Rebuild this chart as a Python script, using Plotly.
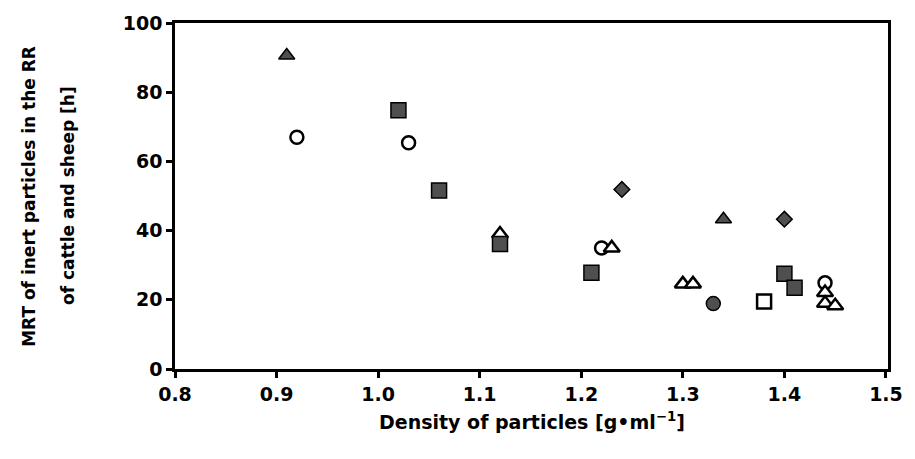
import plotly.graph_objects as go

# Data
ft_x = [0.91, 1.34]
ft_y = [90.6, 43.3]
oc_x = [0.92, 1.03, 1.22, 1.44]
oc_y = [67.0, 65.4, 35.0, 24.9]
ot_x = [1.12, 1.23, 1.30, 1.31, 1.44, 1.44, 1.45]
ot_y = [39.0, 35.0, 24.6, 24.6, 22.1, 19.0, 18.3]
fs_x = [1.02, 1.06, 1.12, 1.21, 1.40, 1.41]
fs_y = [74.8, 51.6, 36.1, 27.8, 27.5, 23.5]
fd_x = [1.24, 1.40]
fd_y = [51.9, 43.3]
fc_x = [1.33]
fc_y = [18.9]
os_x = [1.38]
os_y = [19.5]

x_ticks = [0.8, 0.9, 1.0, 1.1, 1.2, 1.3, 1.4, 1.5]
y_ticks = [0, 20, 40, 60, 80, 100]

FILL = "#4f4f4f"
fig = go.Figure()

def add(x, y, symbol, size, filled):
    fig.add_trace(go.Scatter(
        x=x, y=y, mode="markers", showlegend=False,
        marker=dict(symbol=symbol, size=size,
                    color=FILL if filled else "white",
                    line=dict(color="black", width=1.5 if filled else 2.5))))

add(ft_x, ft_y, "triangle-up", 14, True)
add(oc_x, oc_y, "circle", 13, False)
add(ot_x, ot_y, "triangle-up", 14, False)
add(fs_x, fs_y, "square", 15, True)
add(fd_x, fd_y, "diamond", 12, True)
add(fc_x, fc_y, "circle", 14, True)
add(os_x, os_y, "square", 14, False)

tickfont = dict(family="DejaVu Sans", size=19, color="black", weight="bold")
fig.update_xaxes(range=[0.8, 1.502], tickvals=x_ticks, ticktext=[f"{v:.1f}" for v in x_ticks],
                 ticks="outside", ticklen=6, tickwidth=2.5, tickcolor="black",
                 showline=True, linecolor="black", linewidth=2.5, mirror=True,
                 showgrid=False, zeroline=False, tickfont=tickfont)
fig.update_yaxes(range=[0, 100], tickvals=y_ticks,
                 ticks="outside", ticklen=6, tickwidth=2.5, tickcolor="black",
                 showline=True, linecolor="black", linewidth=2.5, mirror=True,
                 showgrid=False, zeroline=False, tickfont=tickfont)

tfont = dict(family="DejaVu Sans", size=17, color="black", weight="bold")
fig.add_annotation(text="MRT of inert particles in the RR", xref="paper", yref="paper",
                   x=-0.205, y=0.5, textangle=-90, showarrow=False,
                   xanchor="center", yanchor="middle", font=tfont)
fig.add_annotation(text="of cattle and sheep [h]", xref="paper", yref="paper",
                   x=-0.15, y=0.5, textangle=-90, showarrow=False,
                   xanchor="center", yanchor="middle", font=tfont)
fig.add_annotation(text="Density of particles [g•ml<sup>−1</sup>]", xref="paper", yref="paper",
                   x=0.5, y=-0.15, showarrow=False, xanchor="center", yanchor="middle",
                   font=dict(family="DejaVu Sans", size=19, color="black", weight="bold"))

fig.update_layout(width=915, height=459, margin=dict(l=175, r=19, t=20, b=90),
                  paper_bgcolor="white", plot_bgcolor="white")
fig.write_html("out.html")
